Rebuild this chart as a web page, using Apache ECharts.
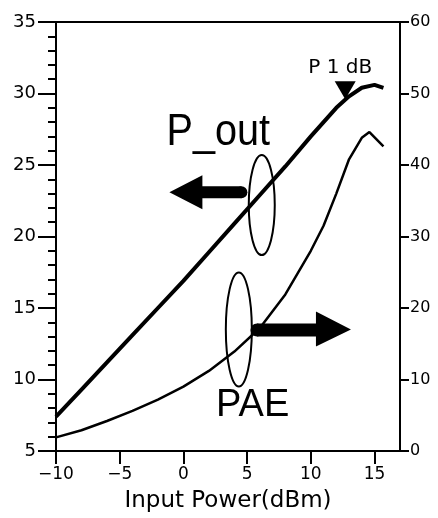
<!DOCTYPE html>
<html>
<head>
<meta charset="utf-8">
<script src="https://cdn.jsdelivr.net/npm/echarts@6/dist/echarts.min.js"></script>
<style>
    html, body { margin: 0; padding: 0; background: #fff; }
    #main { width: 438px; height: 518px; }
</style>
</head>
<body>
<div id="main"></div>
<script type="text/javascript">
    // P_out (dBm, left axis) against input power
    var pinOut = [-10, -8, -6, -4, -2, 0, 2, 4, 6, 8, 10, 12, 13, 14, 15, 15.7];
    var pOut   = [7.4, 9.3, 11.2, 13.1, 15.0, 16.9, 18.9, 20.9, 22.9, 24.9, 27.0, 29.0, 29.8, 30.4, 30.6, 30.4];
    // PAE (%, right axis) against input power
    var pinPae = [-10, -8, -6, -4, -2, 0, 2, 4, 6, 8, 10, 11, 12, 13, 14, 14.6, 15.7];
    var pae    = [1.9, 2.9, 4.2, 5.6, 7.2, 9.0, 11.2, 13.9, 17.2, 21.9, 28.0, 31.5, 36.0, 40.8, 43.8, 44.6, 42.6];
    // P1dB point on the P_out curve
    var p1dB = [12.7, 29.6];

    function pairs(xs, ys) {
        return xs.map(function (x, i) { return [x, ys[i]]; });
    }

    var font = 'DejaVu Sans';
    var big = 'Liberation Sans';
    var chart = echarts.init(document.getElementById('main'));
    var option = {
        backgroundColor: '#fff',
        animation: false,
        grid: {
            left: 56, right: 38, top: 22, bottom: 66,
            show: true, borderColor: '#000', borderWidth: 2
        },
        xAxis: {
            type: 'value', min: -10, max: 17, interval: 5,
            name: 'Input Power(dBm)', nameLocation: 'middle', nameGap: 39,
            nameTextStyle: { color: '#000', fontSize: 23, fontFamily: font },
            axisLine: { onZero: false, lineStyle: { color: '#000', width: 2 } },
            axisTick: { length: 13, lineStyle: { color: '#000', width: 2 } },
            axisLabel: { color: '#000', fontSize: 17, fontFamily: font, margin: 15, showMaxLabel: false,
                formatter: function (v) { return v < 0 ? '\u2212' + (-v) : v; } },
            splitLine: { show: false }
        },
        yAxis: [{
            type: 'value', min: 5, max: 35, interval: 5, position: 'left',
            axisLine: { show: true, onZero: false, lineStyle: { color: '#000', width: 2 } },
            axisTick: { length: 18, lineStyle: { color: '#000', width: 2 } },
            minorTick: { show: true, splitNumber: 5, length: 8, lineStyle: { color: '#000', width: 2 } },
            axisLabel: { color: '#000', fontSize: 18, fontFamily: font, margin: 20 },
            splitLine: { show: false }
        }, {
            type: 'value', min: 0, max: 60, interval: 10, position: 'right',
            axisLine: { show: true, onZero: false, lineStyle: { color: '#000', width: 2 } },
            axisTick: { length: 9, lineStyle: { color: '#000', width: 2 } },
            axisLabel: { color: '#000', fontSize: 16, fontFamily: font, margin: 10 },
            splitLine: { show: false }
        }],
        series: [{
            name: 'P_out', type: 'line', yAxisIndex: 0,
            data: pairs(pinOut, pOut), showSymbol: false,
            lineStyle: { color: '#000', width: 4 },
            markPoint: {
                symbol: 'triangle', symbolSize: [21, 18], symbolRotate: 180,
                symbolOffset: [0, -9],
                itemStyle: { color: '#000' },
                label: { show: true, position: 'top', distance: 3, formatter: 'P 1 dB',
                    color: '#000', fontSize: 20, fontFamily: font, offset: [-5, 0] },
                data: [{ coord: p1dB }]
            }
        }, {
            name: 'PAE', type: 'line', yAxisIndex: 1,
            data: pairs(pinPae, pae), showSymbol: false,
            lineStyle: { color: '#000', width: 2.5 }
        }]
    };
    chart.setOption(option);

    // annotation anchors, placed through the left axis scale
    function px(x, y) {
        return chart.convertToPixel({ xAxisIndex: 0, yAxisIndex: 0 }, [x, y]);
    }
    var pOutLbl = px(-1.33, 28.8);
    var paeLbl = px(2.56, 9.53);
    var lTip = px(-1.1, 23.1);
    var rTip = px(13.15, 13.5);
    var ell1 = px(6.15, 22.2);
    var ell2 = px(4.35, 13.5);

    chart.setOption({
        graphic: [
            { type: 'text', x: pOutLbl[0], y: pOutLbl[1], scaleX: 0.9,
              style: { text: 'P_out', fontSize: 44, fontFamily: big, fill: '#000' } },
            { type: 'text', x: paeLbl[0], y: paeLbl[1],
              style: { text: 'PAE', fontSize: 38, fontFamily: big, fill: '#000' } },
            { type: 'polygon', shape: { points: [
                [lTip[0], lTip[1]], [lTip[0] + 33, lTip[1] - 17], [lTip[0] + 33, lTip[1] - 6],
                [lTip[0] + 72, lTip[1] - 6], [lTip[0] + 72, lTip[1] + 6],
                [lTip[0] + 33, lTip[1] + 6], [lTip[0] + 33, lTip[1] + 17]] },
              style: { fill: '#000' } },
            { type: 'circle', shape: { cx: lTip[0] + 72, cy: lTip[1], r: 6 }, style: { fill: '#000' } },
            { type: 'polygon', shape: { points: [
                [rTip[0], rTip[1]], [rTip[0] - 35, rTip[1] - 18], [rTip[0] - 35, rTip[1] - 6],
                [rTip[0] - 94, rTip[1] - 6], [rTip[0] - 94, rTip[1] + 7],
                [rTip[0] - 35, rTip[1] + 7], [rTip[0] - 35, rTip[1] + 17]] },
              style: { fill: '#000' } },
            { type: 'circle', shape: { cx: rTip[0] - 94, cy: rTip[1] + 0.5, r: 6.5 }, style: { fill: '#000' } },
            { type: 'ellipse', shape: { cx: ell1[0], cy: ell1[1], rx: 13, ry: 50 },
              style: { fill: 'none', stroke: '#000', lineWidth: 2 } },
            { type: 'ellipse', shape: { cx: ell2[0], cy: ell2[1], rx: 13, ry: 57 },
              style: { fill: 'none', stroke: '#000', lineWidth: 2 } }
        ]
    });
</script>
</body>
</html>
